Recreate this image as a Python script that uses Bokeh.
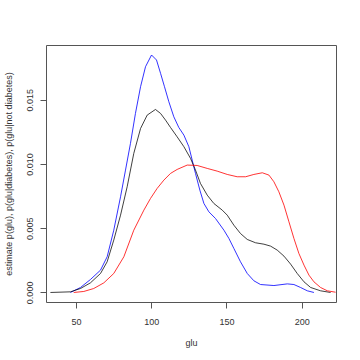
from bokeh.plotting import figure
from bokeh.models import Range1d, FixedTicker, PrintfTickFormatter
from bokeh.embed import file_html
from bokeh.resources import INLINE

# p(glu | not diabetes)
blue_x = [46.0, 52.7, 59.3, 66.0, 70.4, 74.8, 79.3, 82.6, 85.9, 89.2, 92.6, 95.9, 99.9,
          103.2, 105.9, 108.5, 111.4, 114.7, 118.0, 121.4, 124.7, 126.9, 129.1, 132.0,
          134.7, 138.0, 142.4, 148.0, 151.3, 154.6, 159.0, 163.5, 167.9, 172.3, 181.2,
          190.1, 194.5, 198.9, 203.4, 207.8]
blue_y = [0.00003, 0.00042, 0.00104, 0.00177, 0.00281, 0.00488, 0.00748, 0.00956, 0.01164,
          0.01397, 0.01605, 0.01761, 0.01852, 0.01813, 0.01709, 0.01605, 0.01488, 0.01371,
          0.01288, 0.01228, 0.01138, 0.01034, 0.0093, 0.008, 0.00696, 0.00631, 0.00579,
          0.00488, 0.00424, 0.00346, 0.00242, 0.00151, 0.00094, 0.00065, 0.00057, 0.0007,
          0.00065, 0.00042, 0.00016, 0.00003]

# p(glu)
black_x = [32.7, 46.0, 52.7, 59.3, 66.0, 70.4, 74.8, 79.3, 83.7, 88.1, 92.6, 97.0, 102.5,
           105.9, 109.2, 112.5, 116.9, 121.4, 125.8, 129.1, 132.4, 136.9, 141.3, 146.9,
           150.2, 154.6, 159.0, 163.5, 169.0, 174.6, 179.0, 183.4, 187.9, 192.3, 196.7,
           201.2, 205.6, 212.2, 218.9]
black_y = [0.00003, 0.00008, 0.00034, 0.00078, 0.00151, 0.00242, 0.00411, 0.00605, 0.00826,
           0.01086, 0.0128, 0.01384, 0.01428, 0.01397, 0.01345, 0.01288, 0.01215, 0.01138,
           0.01047, 0.00956, 0.00852, 0.00761, 0.00696, 0.00644, 0.00605, 0.00527, 0.00462,
           0.00416, 0.0039, 0.00379, 0.00364, 0.00333, 0.00286, 0.00224, 0.00151, 0.00086,
           0.00042, 0.00016, 0.00003]

# p(glu | diabetes)
red_x = [48.2, 54.9, 61.5, 68.2, 74.8, 81.5, 88.1, 94.8, 99.2, 103.6, 108.1, 112.5, 116.9,
         123.6, 130.2, 136.9, 143.5, 150.2, 156.8, 162.4, 167.9, 173.5, 177.9, 181.2, 184.5,
         187.9, 191.2, 194.5, 197.8, 201.2, 204.5, 207.8, 212.2, 216.7, 222.2]
red_y = [0.00003, 0.00011, 0.00034, 0.00078, 0.00151, 0.00281, 0.00488, 0.00644, 0.00735,
         0.00813, 0.00878, 0.0093, 0.00961, 0.00995, 0.00992, 0.00969, 0.00948, 0.00922,
         0.00904, 0.00904, 0.00922, 0.00935, 0.00917, 0.00865, 0.00787, 0.00683, 0.00553,
         0.00424, 0.00307, 0.00216, 0.00138, 0.00086, 0.00042, 0.00016, 0.00005]

x_ticks = [50, 100, 150, 200]
y_ticks = [0.0, 0.005, 0.010, 0.015]

FONT = "Liberation Sans"
TXT = "#333333"

p = figure(width=344, height=350, output_backend="svg", toolbar_location=None,
           x_range=Range1d(30.1, 222.8), y_range=Range1d(-0.00075, 0.01926),
           min_border_left=46, min_border_right=8, min_border_top=45, min_border_bottom=48)

p.line(blue_x, blue_y, line_color="blue", line_width=1, line_alpha=0.8)
p.line(black_x, black_y, line_color="black", line_width=1, line_alpha=0.75)
p.line(red_x, red_y, line_color="red", line_width=1, line_alpha=0.8)

p.xgrid.visible = False
p.ygrid.visible = False
p.background_fill_color = "white"
p.border_fill_color = "white"
p.outline_line_color = "#555555"
p.outline_line_width = 1

for ax in (p.xaxis[0], p.yaxis[0]):
    ax.axis_line_color = None
    ax.major_tick_line_color = "#555555"
    ax.major_tick_in = 0
    ax.major_tick_out = 6
    ax.minor_tick_line_color = None
    ax.major_label_text_font = FONT
    ax.major_label_text_font_size = "9px"
    ax.major_label_text_color = TXT
    ax.axis_label_text_font = FONT
    ax.axis_label_text_font_size = "9px"
    ax.axis_label_text_font_style = "normal"
    ax.axis_label_text_color = TXT

p.xaxis.ticker = FixedTicker(ticks=x_ticks)
p.yaxis.ticker = FixedTicker(ticks=y_ticks)
p.yaxis.formatter = PrintfTickFormatter(format="%.3f")
p.yaxis.major_label_orientation = "vertical"
p.xaxis.axis_label = "glu"
p.yaxis.axis_label = "estimate p(glu), p(glu|diabetes), p(glu|not diabetes)"
p.xaxis.major_label_standoff = 10
p.xaxis.axis_label_standoff = 10
p.yaxis.major_label_standoff = 7
p.yaxis.axis_label_standoff = 11

open("out.html", "w").write(file_html(p, INLINE))
